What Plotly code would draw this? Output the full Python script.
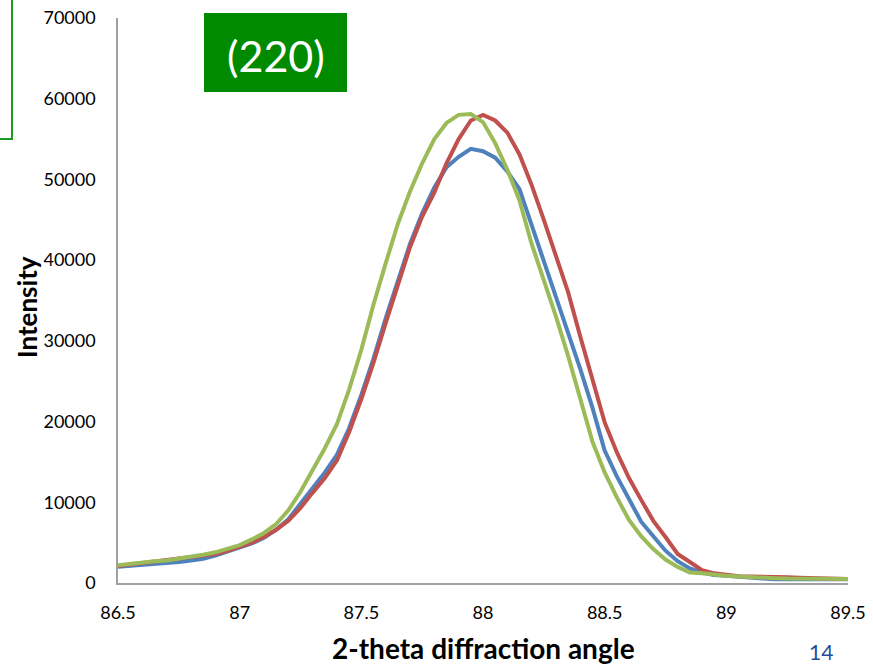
import plotly.graph_objects as go

# ---- data ----
two_theta = [86.50, 86.55, 86.60, 86.65, 86.70, 86.75, 86.80, 86.85, 86.90, 86.95,
             87.00, 87.05, 87.10, 87.15, 87.20, 87.25, 87.30, 87.35, 87.40, 87.45,
             87.50, 87.55, 87.60, 87.65, 87.70, 87.75, 87.80, 87.85, 87.90, 87.95,
             88.00, 88.05, 88.10, 88.15, 88.20, 88.25, 88.30, 88.35, 88.40, 88.45,
             88.50, 88.55, 88.60, 88.65, 88.70, 88.75, 88.80, 88.85, 88.90, 88.95,
             89.00, 89.05, 89.10, 89.15, 89.20, 89.25, 89.30, 89.35, 89.40, 89.45,
             89.50]

blue_series = [2000, 2100, 2200, 2400, 2500, 2600, 2800, 3000, 3400, 3900,
               4400, 4900, 5600, 6600, 7900, 9800, 11800, 13700, 15900, 19200,
               23300, 27800, 32800, 37500, 42000, 45800, 49000, 51500, 52800, 53800,
               53500, 52700, 51000, 48800, 44300, 40100, 35600, 31100, 26500, 21700,
               16400, 13200, 10300, 7600, 5800, 4000, 2700, 1800, 1300, 1000,
               900, 750, 650, 550, 450, 500, 500, 450, 450, 450,
               450]

red_series = [2100, 2300, 2500, 2700, 2900, 3100, 3300, 3400, 3600, 4000,
              4500, 5000, 5700, 6600, 7700, 9300, 11200, 13000, 15200, 18700,
              22800, 27300, 32200, 37000, 41600, 45400, 48400, 52000, 55000, 57300,
              58000, 57300, 55800, 53100, 49300, 45000, 40600, 36000, 30500, 25000,
              19900, 16200, 13000, 10300, 7700, 5700, 3600, 2600, 1600, 1200,
              1000, 850, 800, 800, 750, 700, 650, 600, 600, 550,
              500]

green_series = [2200, 2400, 2600, 2700, 2800, 3000, 3300, 3500, 3800, 4200,
                4700, 5400, 6200, 7300, 9000, 11300, 14000, 16700, 19700, 24000,
                28900, 34500, 39600, 44500, 48500, 52000, 55000, 57000, 58000, 58100,
                57100, 54500, 51200, 47400, 42000, 37600, 33000, 28100, 22700, 17500,
                13700, 10600, 7800, 5800, 4200, 2900, 2000, 1300, 1200, 1000,
                900, 800, 700, 650, 600, 550, 550, 500, 500, 500,
                500]

x_ticks = [86.5, 87, 87.5, 88, 88.5, 89, 89.5]
x_tick_text = ["86.5", "87", "87.5", "88", "88.5", "89", "89.5"]
y_ticks = [0, 10000, 20000, 30000, 40000, 50000, 60000, 70000]
y_tick_text = ["0", "10000", "20000", "30000", "40000", "50000", "60000", "70000"]

x_title = "2-theta diffraction angle"
y_title = "Intensity"

# ---- layout geometry (pixels) ----
W, H = 873, 665
L, R, T, B = 118, 25, 18, 82
PW, PH = W - L - R, H - T - B


def px(x):
    return (x - L) / PW


def py(y):
    return (H - B - y) / PH


FONT = "Lato, 'Open Sans', sans-serif"

fig = go.Figure()
for vals, col in [(blue_series, "#4F81BD"), (red_series, "#C0504D"), (green_series, "#9BBB59")]:
    fig.add_trace(go.Scatter(x=two_theta, y=vals, mode="lines",
                             line=dict(color=col, width=4), showlegend=False,
                             hoverinfo="skip"))

fig.update_layout(
    width=W, height=H,
    margin=dict(l=L, r=R, t=T, b=B, pad=0),
    paper_bgcolor="white", plot_bgcolor="white",
    font=dict(family=FONT, size=18, color="#000000"),
    xaxis=dict(range=[86.5, 89.5], tickvals=x_ticks, ticktext=x_tick_text,
               showgrid=False, zeroline=False, showline=True, linecolor="#A0A0A0",
               linewidth=1.5, ticks="", ticklabelstandoff=13, automargin=False,
               tickfont=dict(family=FONT, size=18, color="#000000")),
    yaxis=dict(range=[0, 70000], tickvals=y_ticks, ticktext=y_tick_text,
               showgrid=False, zeroline=False, showline=True, linecolor="#A0A0A0",
               linewidth=1.5, ticks="", ticklabelstandoff=17, automargin=False,
               tickfont=dict(family=FONT, size=18, color="#000000")),
)

# axis titles
fig.add_annotation(xref="paper", yref="paper", x=px(483), y=py(648),
                   text=f"<b>{x_title}</b>", showarrow=False,
                   xanchor="center", yanchor="middle",
                   font=dict(family=FONT, size=28, color="#000000"))
fig.add_annotation(xref="paper", yref="paper", x=px(27), y=py(307),
                   text=f"<b>{y_title}</b>", showarrow=False, textangle=-90,
                   xanchor="center", yanchor="middle",
                   font=dict(family=FONT, size=26, color="#000000"))

# green label box "(220)"
fig.add_shape(type="rect", xref="paper", yref="paper",
              x0=px(204), x1=px(347), y0=py(92), y1=py(13),
              fillcolor="#008A00", line=dict(width=0), layer="above")
fig.add_annotation(xref="paper", yref="paper", x=px(276), y=py(56),
                   text="(220)", showarrow=False, xanchor="center", yanchor="middle",
                   font=dict(family=FONT, size=43, color="white"))

# partial green frame at top-left
fig.add_shape(type="path", xref="paper", yref="paper",
              path=f"M {px(12)},{py(-2)} L {px(12)},{py(139)} L {px(-2)},{py(139)}",
              line=dict(color="#1E9A1E", width=2), layer="above")

# slide number
fig.add_annotation(xref="paper", yref="paper", x=px(821), y=py(651),
                   text="14", showarrow=False, xanchor="center", yanchor="middle",
                   font=dict(family=FONT, size=21, color="#1F4E9A"))

fig.write_html("out.html")
